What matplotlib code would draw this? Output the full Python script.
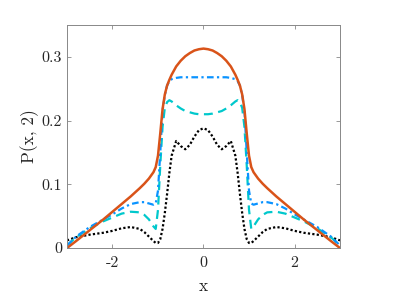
import matplotlib
matplotlib.use("Agg")
import matplotlib.pyplot as plt

plt.rcParams["font.family"] = "cmr10"
plt.rcParams["mathtext.fontset"] = "cm"
plt.rcParams["axes.formatter.use_mathtext"] = True

x = [-3.0, -2.8, -2.5, -2.2, -2.0, -1.8, -1.6, -1.4, -1.3, -1.2, -1.1, -1.05,
     -1.0, -0.95, -0.9, -0.85, -0.8, -0.75, -0.7, -0.6, -0.5, -0.4, -0.3, -0.2,
     -0.1, 0.0, 0.1, 0.2, 0.3, 0.4, 0.5, 0.6, 0.7, 0.75, 0.8, 0.85, 0.9, 0.95,
     1.0, 1.05, 1.1, 1.2, 1.3, 1.4, 1.6, 1.8, 2.0, 2.2, 2.5, 2.8, 3.0]

p_solid = [0.0, 0.011, 0.028, 0.045, 0.057, 0.069, 0.081, 0.094, 0.101, 0.109,
           0.119, 0.127, 0.145, 0.180, 0.218, 0.241, 0.255, 0.264, 0.272, 0.285,
           0.294, 0.301, 0.306, 0.310, 0.312, 0.313, 0.312, 0.310, 0.306, 0.301,
           0.294, 0.285, 0.272, 0.264, 0.255, 0.241, 0.218, 0.180, 0.145, 0.127,
           0.119, 0.109, 0.101, 0.094, 0.081, 0.069, 0.057, 0.045, 0.028, 0.011,
           0.0]

p_dashdot = [0.004, 0.018, 0.033, 0.045, 0.053, 0.062, 0.069, 0.072, 0.072,
             0.070, 0.068, 0.070, 0.090, 0.150, 0.215, 0.240, 0.255, 0.262,
             0.265, 0.267, 0.268, 0.268, 0.268, 0.268, 0.268, 0.268, 0.268,
             0.268, 0.268, 0.268, 0.268, 0.267, 0.265, 0.262, 0.255, 0.240,
             0.215, 0.150, 0.090, 0.070, 0.068, 0.070, 0.072, 0.072, 0.069,
             0.062, 0.053, 0.045, 0.033, 0.018, 0.004]

p_dashed = [0.004, 0.017, 0.031, 0.042, 0.048, 0.054, 0.057, 0.056, 0.052,
            0.045, 0.034, 0.030, 0.060, 0.130, 0.190, 0.220, 0.229, 0.232,
            0.230, 0.224, 0.219, 0.215, 0.213, 0.211, 0.210, 0.210, 0.210,
            0.211, 0.213, 0.215, 0.219, 0.224, 0.230, 0.232, 0.229, 0.220,
            0.190, 0.130, 0.060, 0.030, 0.034, 0.045, 0.052, 0.056, 0.057,
            0.054, 0.048, 0.042, 0.031, 0.017, 0.004]

p_dotted = [0.012, 0.017, 0.021, 0.024, 0.027, 0.031, 0.033, 0.030, 0.025,
            0.018, 0.011, 0.008, 0.008, 0.014, 0.030, 0.055, 0.085, 0.118,
            0.145, 0.168, 0.160, 0.155, 0.162, 0.175, 0.185, 0.188, 0.185,
            0.175, 0.162, 0.155, 0.160, 0.168, 0.145, 0.118, 0.085, 0.055,
            0.030, 0.014, 0.008, 0.008, 0.011, 0.018, 0.025, 0.030, 0.033,
            0.031, 0.027, 0.024, 0.021, 0.017, 0.012]

xticks = [-2, 0, 2]
xticklabels = ["-2", "0", "2"]
yticks = [0, 0.1, 0.2, 0.3]
yticklabels = ["0", "0.1", "0.2", "0.3"]

fig = plt.figure(figsize=(4.07, 2.96), dpi=100)
ax = fig.add_axes([0.1646, 0.162, 0.6708, 0.7535])

ax.plot(x, p_dotted, color="black", lw=1.6, ls=(0, (1, 1)))
ax.plot(x, p_dashed, color="#00C8CC", lw=1.6, ls=(0, (4, 2.5)))
ax.plot(x, p_dashdot, color="#0A93FF", lw=1.6, ls=(0, (3, 1.5, 1, 1.5)))
ax.plot(x, p_solid, color="#D95319", lw=1.8)

ax.set_xlim(-3, 3)
ax.set_ylim(0, 0.35)
ax.set_xticks(xticks)
ax.set_xticklabels(xticklabels)
ax.set_yticks(yticks)
ax.set_yticklabels(yticklabels)
ax.tick_params(direction="in", top=True, right=True, length=3, width=0.6,
               color="#888888", labelsize=11.5, labelcolor="#262626")
ax.tick_params(axis="x", pad=6)
for s in ax.spines.values():
    s.set_color("#888888")
    s.set_linewidth(0.7)

ax.set_xlabel("x", fontsize=12.5, color="#262626", labelpad=6)
ax.set_ylabel("P(x, 2)", fontsize=12.5, color="#262626", labelpad=2)

fig.savefig("out.png", dpi=100)
